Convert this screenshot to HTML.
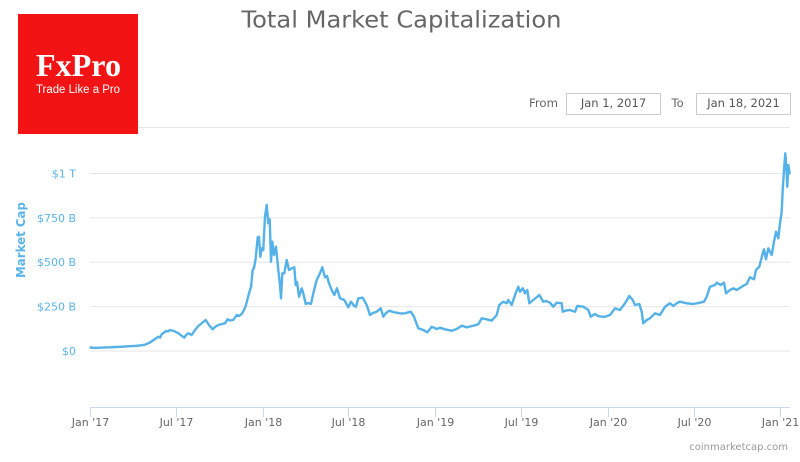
<!DOCTYPE html>
<html>
<head>
<meta charset="utf-8">
<style>
html,body{margin:0;padding:0;background:#fff;}
body{width:800px;height:462px;overflow:hidden;}
svg{display:block;}
</style>
</head>
<body>
<svg width="800" height="462" viewBox="0 0 800 462" xmlns="http://www.w3.org/2000/svg">
  <rect x="0" y="0" width="800" height="462" fill="#ffffff"/>

  <!-- top separator line -->
  <line x1="138" y1="127.5" x2="790" y2="127.5" stroke="#e6e6e6" stroke-width="1"/>

  <!-- gridlines -->
  <g stroke="#e6e6e6" stroke-width="1">
    <line x1="90" y1="173.5" x2="790" y2="173.5"/>
    <line x1="90" y1="217.8" x2="790" y2="217.8"/>
    <line x1="90" y1="262.2" x2="790" y2="262.2"/>
    <line x1="90" y1="306.6" x2="790" y2="306.6"/>
    <line x1="90" y1="351" x2="790" y2="351"/>
  </g>

  <!-- logo -->
  <rect x="18" y="14" width="120" height="120" fill="#f21414"/>
  <text x="36" y="76" font-family="Liberation Serif, serif" font-weight="bold" font-size="32" fill="#ffffff" textLength="85" lengthAdjust="spacingAndGlyphs">FxPro</text>
  <text x="36" y="93" font-family="Liberation Sans, sans-serif" font-size="11.5" fill="#ffffff" textLength="84" lengthAdjust="spacingAndGlyphs">Trade Like a Pro</text>

  <!-- title -->
  <text x="241.5" y="27.5" font-family="DejaVu Sans, sans-serif" font-size="23" fill="#666666" textLength="320" lengthAdjust="spacingAndGlyphs">Total Market Capitalization</text>

  <!-- date range -->
  <text x="529" y="107" font-family="DejaVu Sans, sans-serif" font-size="11.5" fill="#666666" textLength="29" lengthAdjust="spacingAndGlyphs">From</text>
  <rect x="566.5" y="93.5" width="94" height="21" fill="#ffffff" stroke="#cccccc" stroke-width="1"/>
  <text x="613.5" y="107" text-anchor="middle" font-family="DejaVu Sans, sans-serif" font-size="11.5" fill="#555555">Jan 1, 2017</text>
  <text x="671.5" y="107" font-family="DejaVu Sans, sans-serif" font-size="11.5" fill="#666666">To</text>
  <rect x="696.5" y="93.5" width="94" height="21" fill="#ffffff" stroke="#cccccc" stroke-width="1"/>
  <text x="743.5" y="107" text-anchor="middle" font-family="DejaVu Sans, sans-serif" font-size="11.5" fill="#555555">Jan 18, 2021</text>

  <!-- y axis labels -->
  <g font-family="DejaVu Sans, sans-serif" font-size="11" fill="#5ab4e8" text-anchor="end">
    <text x="76" y="177.5">$1 T</text>
    <text x="76" y="221.8">$750 B</text>
    <text x="76" y="266.2">$500 B</text>
    <text x="76" y="310.6">$250 B</text>
    <text x="76" y="355">$0</text>
  </g>
  <text transform="translate(25,240) rotate(-90)" text-anchor="middle" font-family="DejaVu Sans, sans-serif" font-size="12" font-weight="bold" fill="#5ab4e8" textLength="76" lengthAdjust="spacingAndGlyphs">Market Cap</text>

  <!-- x axis -->
  <line x1="90" y1="407.5" x2="790" y2="407.5" stroke="#ccd6eb" stroke-width="1"/>
  <g stroke="#ccd6eb" stroke-width="1">
    <line x1="90.5" y1="407" x2="90.5" y2="417"/>
    <line x1="176.5" y1="407" x2="176.5" y2="417"/>
    <line x1="263.5" y1="407" x2="263.5" y2="417"/>
    <line x1="348.5" y1="407" x2="348.5" y2="417"/>
    <line x1="435.5" y1="407" x2="435.5" y2="417"/>
    <line x1="521.5" y1="407" x2="521.5" y2="417"/>
    <line x1="608.5" y1="407" x2="608.5" y2="417"/>
    <line x1="694.5" y1="407" x2="694.5" y2="417"/>
    <line x1="780.5" y1="407" x2="780.5" y2="417"/>
  </g>
  <g font-family="DejaVu Sans, sans-serif" font-size="11" fill="#666666" text-anchor="middle">
    <text x="90.5" y="426">Jan '17</text>
    <text x="176.5" y="426">Jul '17</text>
    <text x="263.5" y="426">Jan '18</text>
    <text x="348.5" y="426">Jul '18</text>
    <text x="435.5" y="426">Jan '19</text>
    <text x="521.5" y="426">Jul '19</text>
    <text x="608.5" y="426">Jan '20</text>
    <text x="694.5" y="426">Jul '20</text>
    <text x="780.5" y="426">Jan '21</text>
  </g>
  <text x="788" y="450" text-anchor="end" font-family="DejaVu Sans, sans-serif" font-size="10" fill="#999999">coinmarketcap.com</text>

  <!-- series -->
  <polyline fill="none" stroke="#55b2e8" stroke-width="2.4" stroke-linejoin="round" stroke-linecap="round"
    points="90.5,347.5 95,347.9 100,347.7 105,347.4 110,347.3 115,347 120,346.8 125,346.5 130,346.2 135,345.9 140,345.5 145,344.7 150,342.5 155,339 158.3,336.7 160,337.5 162,334 166,331 168,331.5 170,330 174,331 178.3,333.3 182,336 184.3,337.7 186,335 188.3,333.3 191.7,335 195,330 198.3,326 202,323 205.7,320 207,322 209,325 212.7,329.3 215,327 218.3,325 222,324 225,323.3 227.7,319.3 230,320.5 233.3,320 236.7,315 239,316 241.7,314 244,310 245.7,306 248.3,296 250,290 251,287.3 252.7,270 254,268 255.7,258.3 256.5,250 257.7,237.3 259,236.7 260.3,256.7 261.7,248.3 263.3,250 264,235 265,216.7 266.7,205 268.3,223.3 269.7,219.3 271,261.7 272.3,241.7 274,255 276,246.7 278.3,270 280,285 281,298.3 282.3,273.3 284.3,273.3 286.7,260 289,270 291.7,268.3 294.3,267.3 295.7,285 297,282 299,296.7 301.7,288.3 303.3,293.3 305.7,304 308,303 311,304 313.3,293.3 316.7,280 320,273.3 322.3,267.3 325,277.3 327,276 329,283.3 331.7,290 334.3,295 337,288.3 340,298.3 344.3,300 348.3,307.3 351,301.7 354.3,306 356,306.7 358.3,298.3 362.7,297.7 366.7,305 370,315 373,313 376.7,311.7 380.7,308.3 383.3,316.7 386,313 389.3,310.7 393,312 396.7,312.7 401,313.5 405,313.3 410.7,311.7 414,316.7 418.3,328.3 423.3,330 427.3,332.3 431.7,326.7 436.7,329 440,327.7 445,329.3 451.7,330.7 456.7,329 461.7,325.7 466.7,327.3 470,326.5 473.3,325.7 478.3,324.3 481.7,318.3 486.7,319.3 491.7,320.7 496.7,315 499.3,305 503.3,301.7 506.7,303.3 508.3,300 511.7,305 515,295 518.3,286.7 520,291.7 522.7,288.3 525,293.3 527.3,290 529.3,303.3 533.3,300 539.3,295 543.3,301.7 546,301 550,302.7 553.3,306.7 556.7,302.7 561.7,303.3 562.7,311.7 566,310.5 570,310 575,311.7 577.3,306 583.3,306.7 588.3,310 590.7,316.7 595,314 598,316 601.7,316.7 605,316.7 610,315 615,308.3 620,310 625,303.3 629.3,296 632.7,300 635,305 639.3,304 641.7,311.7 643.3,323.3 646.7,320 650,318.3 655,313.3 660,315 665,306.7 670,303.3 673.3,306 677,303 680,301.7 686.7,303.3 693.3,304 700,302.7 704,301.7 706.7,296.7 710,286.7 715,285 716.7,282.7 720.7,285 724,282.7 726,293.3 730,290 733.3,288.3 736.7,290 741.7,286.7 746.7,284 750,277.3 754,279.3 756,270 759.3,266.7 762.7,253.3 764,249.3 766,259.3 768.3,248.3 771.7,255 774,241.7 776,231.7 778.3,238.3 780,223.3 781.7,211.7 782.7,190 784,170 785.3,153.3 786.7,173.3 787.3,186.7 788.3,165 789.7,173.3"/>
</svg>
</body>
</html>
